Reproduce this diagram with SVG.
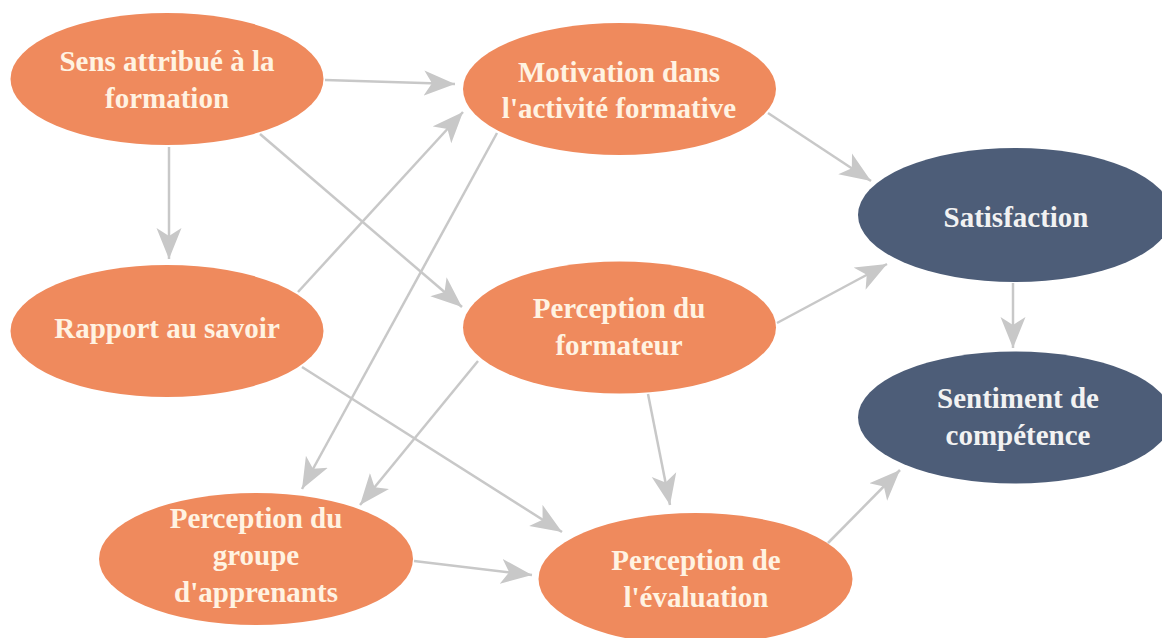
<svg xmlns="http://www.w3.org/2000/svg" width="1162" height="638" viewBox="0 0 1162 638">
<style>
.o{fill:#EF8A5D}
.n{fill:#4D5D78}
.t{font-family:"Liberation Serif","Times New Roman",serif;font-weight:bold;font-size:29px;text-anchor:middle}
.to{fill:#FFF3E2}
.tn{fill:#F2F2F2}
.c{stroke:#C8C8C8;stroke-width:2.5;fill:none;marker-end:url(#ah)}
</style>
<defs>
<marker id="ah" viewBox="-31 -13 32 26" markerWidth="32" markerHeight="26" refX="0" refY="0" orient="auto" markerUnits="userSpaceOnUse">
<path d="M0,0 L-31,-12.5 L-23,0 L-31,12.5 Z" fill="#C8C8C8"/>
</marker>
</defs>
<rect width="1162" height="638" fill="#FFFFFF"/>
<g id="connectors">
<line class="c" x1="325" y1="80" x2="455" y2="84"/>
<line class="c" x1="169" y1="147" x2="169" y2="259"/>
<line class="c" x1="260" y1="134" x2="462" y2="307"/>
<line class="c" x1="298" y1="292" x2="463" y2="112"/>
<line class="c" x1="497" y1="133" x2="302" y2="489"/>
<line class="c" x1="478" y1="361" x2="360" y2="505"/>
<line class="c" x1="302" y1="367" x2="562" y2="532"/>
<line class="c" x1="414" y1="561" x2="532" y2="575"/>
<line class="c" x1="648" y1="394" x2="670" y2="505"/>
<line class="c" x1="768" y1="113" x2="871" y2="181"/>
<line class="c" x1="777" y1="323" x2="887" y2="264"/>
<line class="c" x1="1013" y1="283" x2="1013" y2="348"/>
<line class="c" x1="828" y1="543" x2="900" y2="470"/>
</g>
<g id="sens">
<ellipse class="o" cx="167" cy="79" rx="156.5" ry="66"/>
<text class="t to" x="167" y="71">Sens attribué à la</text>
<text class="t to" x="167" y="108">formation</text>
</g>
<g id="motivation">
<ellipse class="o" cx="619.5" cy="89" rx="156.5" ry="66"/>
<text class="t to" x="619" y="82">Motivation dans</text>
<text class="t to" x="619" y="118">l'activité formative</text>
</g>
<g id="satisfaction">
<ellipse class="n" cx="1015" cy="215" rx="157" ry="67"/>
<text class="t tn" x="1016" y="227">Satisfaction</text>
</g>
<g id="rapport">
<ellipse class="o" cx="167" cy="331" rx="156.5" ry="66"/>
<text class="t to" x="167" y="338">Rapport au savoir</text>
</g>
<g id="formateur">
<ellipse class="o" cx="619.5" cy="327.5" rx="156.5" ry="66"/>
<text class="t to" x="619" y="318">Perception du</text>
<text class="t to" x="619" y="355">formateur</text>
</g>
<g id="sentiment">
<ellipse class="n" cx="1015" cy="417.5" rx="157" ry="66"/>
<text class="t tn" x="1018" y="408">Sentiment de</text>
<text class="t tn" x="1018" y="445">compétence</text>
</g>
<g id="groupe">
<ellipse class="o" cx="256" cy="559" rx="157" ry="66"/>
<text class="t to" x="256" y="528">Perception du</text>
<text class="t to" x="256" y="565">groupe</text>
<text class="t to" x="256" y="602">d'apprenants</text>
</g>
<g id="evaluation">
<ellipse class="o" cx="695.5" cy="579" rx="157" ry="66"/>
<text class="t to" x="696" y="570">Perception de</text>
<text class="t to" x="696" y="607">l'évaluation</text>
</g>
</svg>
